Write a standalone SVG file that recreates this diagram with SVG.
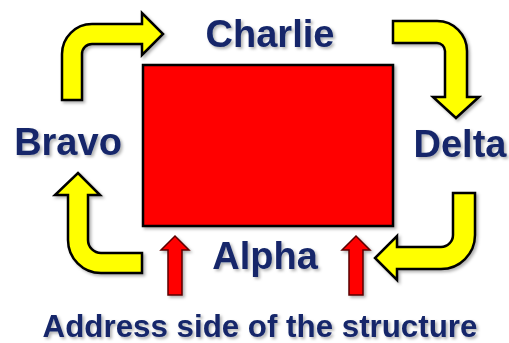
<svg xmlns="http://www.w3.org/2000/svg" width="509" height="343" viewBox="0 0 509 343">
  <defs>
    <filter id="shadow" x="-10%" y="-10%" width="130%" height="140%">
      <feDropShadow dx="2" dy="2" stdDeviation="1.5" flood-color="#000" flood-opacity="0.3"/>
    </filter>
  </defs>
  <style>
    .lbl { font-family: "Liberation Sans", Arial, sans-serif; font-weight: bold; fill: #15286a; text-anchor: middle; filter: url(#shadow); }
    .big { font-size: 38px; }
    .small { font-size: 31.3px; }
    .ybend { fill: #ffff00; stroke: #000; stroke-width: 2.5; stroke-linejoin: miter; filter: url(#shadow); }
    .rup { fill: #ff0000; stroke: #5a0000; stroke-width: 1.5; filter: url(#shadow); }
  </style>
  <rect width="509" height="343" fill="#ffffff"/>

  <g id="structure">
    <rect x="143" y="65" width="250" height="161" fill="#ff0000" stroke="#000" stroke-width="2.5" filter="url(#shadow)"/>
  </g>

  <g id="connectors">
    <path class="ybend" d="M62,100 L62,54 A30,30 0 0 1 92,24 L142,24 L142,13 L163,34 L142,55 L142,44 L92,44 A10,10 0 0 0 82,54 L82,100 Z"/>
    <path class="ybend" d="M393,21 L437,21 A30,30 0 0 1 467,51 L467,97 L479,97 L456,118 L433,97 L445,97 L445,51 A8,8 0 0 0 437,43 L393,43 Z"/>
    <path class="ybend" d="M453,193 L475,193 L475,235 A34,34 0 0 1 441,269 L397,269 L397,280 L375,258 L397,236 L397,247 L441,247 A12,12 0 0 0 453,235 Z"/>
    <path class="ybend" d="M68,195 L55,195 L78,173 L100,195 L88,195 L88,240 A13,13 0 0 0 101,253 L142,253 L142,273 L101,273 A33,33 0 0 1 68,240 Z"/>
    <path class="rup" d="M168,295 L168,250 L161,250 L175,236 L189,250 L182,250 L182,295 Z"/>
    <path class="rup" d="M349,295 L349,250 L342,250 L356,236 L370,250 L363,250 L363,295 Z"/>
  </g>

  <g id="charlie"><text class="lbl big" x="270" y="47">Charlie</text></g>
  <g id="bravo"><text class="lbl big" x="68" y="155">Bravo</text></g>
  <g id="delta"><text class="lbl big" x="460" y="157">Delta</text></g>
  <g id="alpha"><text class="lbl big" x="265" y="269">Alpha</text></g>
  <g id="address"><text class="lbl small" x="260" y="337">Address side of the structure</text></g>
</svg>
